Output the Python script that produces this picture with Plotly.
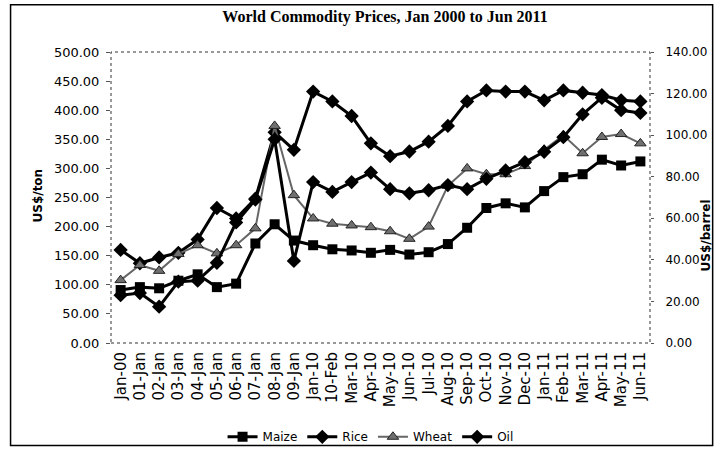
import plotly.graph_objects as go

categories = ["Jan-00", "01-Jan", "02-Jan", "03-Jan", "04-Jan", "05-Jan", "06-Jan", "07-Jan",
              "08-Jan", "09-Jan", "Jan-10", "10-Feb", "Mar-10", "Apr-10", "May-10", "Jun-10",
              "Jul-10", "Aug-10", "Sep-10", "Oct-10", "Nov-10", "Dec-10", "Jan-11", "Feb-11",
              "Mar-11", "Apr-11", "May-11", "Jun-11"]

maize = [91, 96, 94, 107, 118, 96, 102, 171, 204, 176, 168, 161, 159, 155, 160, 152,
         156, 170, 198, 232, 240, 233, 261, 285, 290, 315, 305, 312]
rice = [160, 137, 147, 155, 178, 232, 214, 248, 362, 332, 432, 415, 390, 343, 321, 329,
        346, 373, 415, 434, 432, 432, 417, 434, 430, 426, 417, 415]
wheat = [108, 134, 124, 153, 168, 154, 168, 197, 373, 254, 214, 205, 202, 199, 192, 179,
         200, 270, 300, 290, 290, 304, 332, 357, 326, 354, 359, 343]
oil = [23, 24, 17.5, 29.5, 30, 38.6, 58, 69, 98, 39.5, 77.4, 72.7, 77.4, 82, 74, 72,
       73.5, 76, 74, 79, 83, 87, 92, 99, 110, 118, 112, 110.7]

left_ticks = [0, 50, 100, 150, 200, 250, 300, 350, 400, 450, 500]
right_ticks = [0, 20, 40, 60, 80, 100, 120, 140]

W, H = 719, 463
L, R, T, B = 111, 653, 52, 353

fig = go.Figure()
fig.add_trace(go.Scatter(x=categories, y=maize, name="Maize", mode="lines+markers",
                         line=dict(color="black", width=3),
                         marker=dict(symbol="square", size=10, color="black")))
fig.add_trace(go.Scatter(x=categories, y=rice, name="Rice", mode="lines+markers",
                         line=dict(color="black", width=3),
                         marker=dict(symbol="diamond", size=11, color="black")))
fig.add_trace(go.Scatter(x=categories, y=wheat, name="Wheat", mode="lines+markers",
                         line=dict(color="#666666", width=2),
                         marker=dict(symbol="triangle-up", size=10, color="#6f6f6f",
                                     line=dict(color="#222", width=1))))
fig.add_trace(go.Scatter(x=categories, y=oil, name="Oil", mode="lines+markers", yaxis="y2",
                         line=dict(color="black", width=3),
                         marker=dict(symbol="diamond", size=11, color="black")))

pw, ph = R - L, B - T

def px(x):
    return (x - L) / pw

def py(y):
    return (B - y) / ph

fig.update_layout(
    width=W, height=H,
    margin=dict(l=L, r=W - R, t=T, b=H - B),
    paper_bgcolor="white", plot_bgcolor="white",
    font=dict(family="DejaVu Sans", size=12, color="black"),
    title=dict(text="<b>World Commodity Prices, Jan 2000 to Jun 2011</b>",
               font=dict(family="Liberation Serif", size=16, color="black"),
               x=385 / W, xanchor="center", xref="container",
               y=1 - 16 / H, yanchor="middle", yref="container"),
    xaxis=dict(type="category", tickangle=-90, showgrid=False, zeroline=False,
               showline=False, ticks="", tickfont=dict(family="DejaVu Sans", size=15),
               range=[-0.5, len(categories) - 0.5], ticklabelstandoff=5),
    yaxis=dict(range=[0, 500], tickvals=left_ticks, tickformat=".2f", showgrid=False,
               zeroline=False, showline=False, ticks="outside", ticklen=4, tickcolor="#555",
               tickfont=dict(family="DejaVu Sans", size=13), ticklabelstandoff=4),
    yaxis2=dict(range=[0, 140], tickvals=right_ticks, tickformat=".2f", overlaying="y",
                side="right", showgrid=False, zeroline=False, showline=False,
                ticks="outside", ticklen=3, tickcolor="#555", ticklabelstandoff=9,
                tickfont=dict(family="DejaVu Sans", size=12)),
    showlegend=True,
    legend=dict(orientation="h", x=px(372), xanchor="center", y=py(450), yanchor="middle",
                font=dict(family="DejaVu Sans", size=12), itemwidth=30,
                bgcolor="rgba(0,0,0,0)"),
    shapes=[
        dict(type="rect", xref="paper", yref="paper", x0=0, x1=1, y0=0, y1=1,
             line=dict(color="#333", width=1, dash="dot")),
        dict(type="rect", xref="paper", yref="paper", x0=px(10), x1=px(716),
             y0=py(459), y1=py(3), line=dict(color="black", width=1.5)),
    ],
    annotations=[
        dict(text="<b>US$/ton</b>", textangle=-90, xref="paper", yref="paper",
             x=px(38), y=py(200), xanchor="center", yanchor="middle", showarrow=False,
             font=dict(family="DejaVu Sans", size=12)),
        dict(text="<b>US$/barrel</b>", textangle=-90, xref="paper", yref="paper",
             x=px(709), y=py(242), xanchor="center", yanchor="middle", showarrow=False,
             font=dict(family="DejaVu Sans", size=12)),
    ],
)

fig.write_html("out.html", config={"displayModeBar": False},
               post_script="document.body.style.margin='0';document.body.style.overflow='hidden';")
